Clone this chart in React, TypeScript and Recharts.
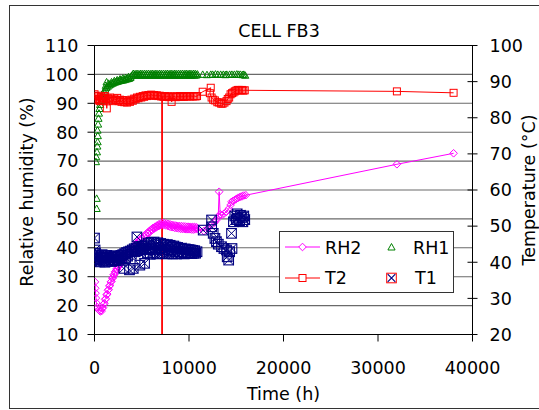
import React from "react";
import {
  ScatterChart,
  Scatter,
  XAxis,
  YAxis,
  CartesianGrid,
  ReferenceLine,
  Legend,
} from "recharts";

// ---------- tick labels ----------
const timeTicks = [0, 10000, 20000, 30000, 40000];
const rhTicks = [10, 20, 30, 40, 50, 60, 70, 80, 90, 100, 110];
const tempTicks = [20, 30, 40, 50, 60, 70, 80, 90, 100];

// ---------- series: [time (h), value] ----------
const rh2Points: number[][] = [
  [50, 28.2], [80, 26], [110, 24.3], [150, 22.6], [200, 20.9], [300, 19.5], [450, 18.5],
  [600, 18], [675, 18.4], [750, 18.1], [825, 19.1], [900, 19.3], [975, 20.5], [1050, 20.8],
  [1125, 22.1], [1200, 22.4], [1275, 23.7], [1350, 24], [1425, 25.3], [1500, 25.6], [1575, 26.8],
  [1650, 27], [1725, 28.2], [1800, 28.4], [1875, 29.5], [1950, 29.6], [2025, 30.7], [2100, 30.7],
  [2175, 31.7], [2250, 31.7], [2325, 32.7], [2400, 32.6], [2475, 33.6], [2550, 33.5], [2625, 34.4],
  [2700, 34.3], [2800, 35.3], [2900, 35.2], [3000, 36.2], [3100, 36.1], [3200, 37], [3300, 36.9],
  [3400, 37.8], [3500, 37.7], [3600, 38.6], [3700, 38.5], [3800, 39.4], [3900, 39.2], [4000, 40.1],
  [4100, 39.9], [4200, 40.8], [4300, 40.6], [4400, 41.5], [4500, 41.3], [4600, 42.1], [4700, 41.9],
  [4800, 42.8], [4900, 42.6], [5000, 43.4], [5100, 43.2], [5200, 44], [5300, 43.8], [5400, 44.6],
  [5500, 44.4], [5600, 45.2], [5700, 45], [5800, 45.8], [5900, 45.6], [6000, 46.4], [6100, 46.1],
  [6200, 46.9], [6300, 46.6], [6400, 47.3], [6500, 47], [6600, 47.7], [6700, 47.4], [6800, 48.1],
  [6900, 47.7], [7000, 48.4], [7100, 47.9], [7200, 48.6], [7300, 47.9], [7400, 48.5], [7500, 47.8],
  [7600, 48.4], [7700, 47.6], [7800, 48.3], [7900, 47.4], [8000, 48.1], [8100, 47.2], [8200, 47.9],
  [8300, 47.1], [8400, 47.8], [8500, 46.9], [8600, 47.7], [8700, 46.8], [8800, 47.6], [8900, 46.7],
  [9000, 47.5], [9100, 46.6], [9200, 47.5], [9300, 46.5], [9400, 47.4], [9500, 46.5], [9600, 47.4],
  [9700, 46.4], [9800, 47.3], [9900, 46.4], [10000, 47.3], [10100, 46.4], [10200, 47.2],
  [10300, 46.3], [10400, 47.2], [10500, 46.3], [10600, 47.2], [10700, 46.4], [10800, 47.1],
  [10900, 46.6],
  [11570, 45.8], [12000, 46.8], [12390, 47.9], [12700, 48.8], [12910, 49.6], [13090, 50.7],
  [13190, 59.4], [13300, 51.6], [13440, 51.3], [13700, 51.8], [13970, 52.5], [14200, 53.5],
  [14400, 54.8], [14500, 55.9], [14650, 56.2], [14850, 56.6], [15000, 56.9], [15170, 57.2],
  [15330, 57.5], [15490, 57.7], [15650, 57.9], [15800, 58.1], [16010, 58.2], [32000, 68.9],
  [38000, 72.7],
];

const rh1Points: number[][] = [
  [230, 53.6], [230, 57.1], [150, 69.8], [180, 71.5], [260, 73.2], [300, 75.2], [330, 76.7],
  [350, 78.8], [320, 80.7], [380, 82.8], [420, 84.8], [470, 86.6], [520, 88.2], [600, 89.6],
  [680, 91], [780, 92.4], [880, 93.4], [1000, 94.2], [1130, 94.9], [1280, 97.4], [1260, 95.5],
  [1200, 96.2], [1400, 95.9], [1500, 96.9], [1550, 96.3], [1700, 96.6], [1800, 97.4], [1850, 96.9],
  [2000, 97.1], [2100, 97.8], [2150, 97.3], [2300, 97.5], [2400, 98.1], [2450, 97.6], [2600, 97.8],
  [2700, 98.4], [2750, 97.9], [2900, 98], [3000, 98.7], [3050, 98.1], [3200, 98.2], [3300, 98.9],
  [3350, 98.4], [3500, 98.5], [3600, 99.2], [3650, 98.6], [3800, 98.9], [3900, 99.5],
  [4000, 99.8], [4100, 100.3], [4200, 99.7], [4300, 100.2], [4400, 99.8], [4500, 100.3],
  [4600, 99.7], [4700, 100.2], [4800, 99.8], [4900, 100.3], [5000, 99.7], [5100, 100.2],
  [5200, 99.8], [5300, 100.3], [5400, 99.7], [5500, 100.2], [5600, 99.8], [5700, 100.3],
  [5800, 99.7], [5900, 100.2], [6000, 99.8], [6100, 100.3], [6200, 99.7], [6300, 100.2],
  [6400, 99.8], [6500, 100.3], [6600, 99.7], [6700, 100.2], [6800, 99.8], [6900, 100.3],
  [7000, 99.7], [7100, 100.2], [7200, 99.8], [7300, 100.3], [7400, 99.7], [7500, 100.2],
  [7600, 99.8], [7700, 100.3], [7800, 99.7], [7900, 100.2], [8000, 99.8], [8100, 100.3],
  [8200, 99.7], [8300, 100.2], [8400, 99.8], [8500, 100.3], [8600, 99.7], [8700, 100.2],
  [8800, 99.8], [8900, 100.3], [9000, 99.7], [9100, 100.2], [9200, 99.8], [9300, 100.3],
  [9400, 99.7], [9500, 100.2], [9600, 99.8], [9700, 100.3], [9800, 99.7], [9900, 100.2],
  [10000, 99.8], [10100, 100.3], [10200, 99.7], [10300, 100.2], [10400, 99.8], [10500, 100.3],
  [10600, 99.7], [10700, 100.2], [10800, 99.8], [10900, 100.1],
  [11450, 100], [11900, 99.9], [12300, 100], [12500, 100], [12800, 100.1], [13050, 100],
  [13350, 100], [13630, 100], [13850, 99.9], [14000, 100], [14300, 100], [14540, 100],
  [14800, 100], [15060, 100.1], [15250, 100], [15440, 100], [15650, 99.9], [15800, 100],
  [15950, 99.7],
];

const t2Points: number[][] = [
  [0, 86.5], [60, 85.2], [120, 86], [200, 84.8], [300, 85.6], [400, 86.1], [500, 85], [600, 84.6],
  [700, 85.8], [800, 85.3], [900, 84.7], [1000, 85.5], [1100, 86], [1200, 85.2], [1300, 82.6],
  [1400, 85.4], [1500, 84.8], [1650, 85.6], [1800, 85.1], [1950, 84.6], [2100, 85.3], [2250, 84.9],
  [2400, 85.5], [2550, 84.6], [2700, 85], [2850, 84.4], [3000, 84.9], [3150, 84.3], [3300, 84.8],
  [3450, 84.2], [3600, 84.7], [3750, 84.4], [3900, 85], [4050, 84.7], [4200, 85.3], [4350, 85.1],
  [4500, 85.6], [4650, 85.4], [4800, 85.8], [4950, 85.6], [5100, 86], [5250, 85.8], [5400, 86.2],
  [5550, 86], [5700, 86.3], [5850, 86.1], [6000, 86.4], [6150, 86.2], [6300, 86.3], [6450, 86.1],
  [6600, 86.2], [6750, 86], [6900, 86.1], [7050, 85.9], [7150, 86], [7300, 85.8], [7450, 86],
  [7600, 85.8], [7750, 85.9], [7900, 85.7], [8050, 85.9], [8160, 84.4], [8300, 85.8], [8450, 85.9],
  [8600, 85.7], [8750, 85.9], [8900, 85.8], [9050, 86], [9200, 85.8], [9350, 85.9], [9500, 85.8],
  [9650, 86], [9800, 85.9], [9950, 86], [10100, 85.9], [10250, 86], [10400, 85.9], [10550, 86],
  [10700, 85.9], [10850, 86],
  [11450, 87.2], [12300, 88.3], [12210, 86.8], [12390, 85.6], [12560, 85], [12740, 84.8],
  [13000, 84.3], [13190, 84.2], [13400, 83.9], [13550, 83.9], [13750, 84.2], [13970, 84.6],
  [14100, 85.2], [14250, 85.6], [14400, 86.5], [14550, 86.8], [14700, 87], [14850, 87.3],
  [15000, 87.5], [15150, 87.7], [15300, 87.7], [15450, 87.6], [15600, 87.7], [15750, 87.5],
  [15900, 87.6], [32000, 87.3], [38000, 86.9],
];

const t1Points: number[][] = [
  [0, 46.7], [60, 43.4], [100, 42.5], [150, 41], [200, 42], [250, 40.3], [300, 41.5], [400, 40.7],
  [500, 41.8], [600, 40.1], [700, 41.3], [800, 42.1], [900, 40.5], [1000, 41.5], [1100, 40],
  [1200, 41.1], [1300, 41.9], [1400, 40.3], [1500, 41.4], [1600, 40.8], [1700, 41.7], [1800, 40.2],
  [1900, 41.3], [2000, 40.7], [2100, 41.8], [2200, 40.4], [2300, 41.2], [2400, 40.8], [2500, 41.6],
  [2600, 40.5], [2700, 41.3], [2800, 41.9], [2900, 40.9], [3000, 42.1], [3100, 38.3], [3200, 42.4],
  [3300, 41.3], [3400, 42.7], [3500, 41.7], [3600, 42.9], [3700, 37.9], [3800, 43.1], [3900, 42.2],
  [4000, 43.4], [4100, 38.3], [4200, 43.7], [4300, 42.9], [4400, 43.9], [4490, 47], [4600, 43.2],
  [4700, 44.2], [4800, 39.2], [4900, 43.5], [5000, 44.4], [5100, 43.7], [5200, 44.5], [5300, 39.7],
  [5400, 43.8], [5500, 44.8], [5600, 42.6], [5700, 45.3], [5800, 43.5], [5900, 42.2], [6000, 45.5],
  [6100, 44], [6200, 42.5], [6300, 45.6], [6400, 43.4], [6500, 44.8], [6600, 42.3], [6700, 45.4],
  [6800, 43.8], [6900, 42.5], [7000, 45.2], [7100, 44.1], [7200, 42.4], [7300, 45], [7400, 43.3],
  [7500, 44.6], [7600, 42.3], [7700, 44.9], [7800, 43.5], [7900, 42.4], [8000, 44.7], [8100, 43.1],
  [8200, 44.3], [8300, 42.3], [8400, 44.5], [8500, 43], [8600, 44.2], [8700, 42.3], [8800, 44.1],
  [8900, 42.9], [9000, 43.8], [9100, 42.4], [9200, 43.9], [9300, 42.8], [9400, 43.6], [9500, 42.3],
  [9600, 43.7], [9700, 42.6], [9800, 43.5], [9900, 42.4], [10000, 43.5], [10100, 42.6],
  [10200, 43.4], [10300, 42.4], [10400, 43.3], [10500, 42.5], [10600, 43.2], [10700, 42.5],
  [10850, 42.9],
  [11500, 48.9], [12390, 51.7], [12400, 49.8], [12560, 48], [12740, 46.6], [12900, 45.7],
  [13100, 45], [13440, 44.3], [13700, 43.8], [13970, 43.4], [14040, 41.5], [14200, 40.6],
  [14300, 42.9], [14500, 48], [14550, 43.8], [14700, 51.2], [14850, 52.8], [15000, 51.8],
  [15100, 53.4], [15200, 52.2], [15350, 51.5], [15450, 53], [15600, 52.4], [15700, 51.2],
  [15800, 52.8], [15900, 51.8],
];

// the T2 trace drops to the axis at this time
const t2DropTime = 7150;
const t2DropTop = 85.9;

const toXY = (arr: number[][]) => arr.map(([x, y]) => ({ x, y }));

const FONT = "'DejaVu Sans', Verdana, sans-serif";
const FS = 17.5;
const MAGENTA = "#FF00FF";
const GREEN = "#008000";
const RED = "#FF0000";
const NAVY = "#000080";

const Diamond = (p: any) => {
  const { cx, cy } = p;
  if (cx == null || cy == null) return null;
  const r = 3.8;
  return (
    <path
      d={`M${cx} ${cy - r}L${cx + r} ${cy}L${cx} ${cy + r}L${cx - r} ${cy}Z`}
      fill="none"
      stroke={MAGENTA}
      strokeWidth={1}
    />
  );
};

const Triangle = (p: any) => {
  const { cx, cy } = p;
  if (cx == null || cy == null) return null;
  return (
    <path
      d={`M${cx} ${cy - 3.5}L${cx + 3.6} ${cy + 3}L${cx - 3.6} ${cy + 3}Z`}
      fill="none"
      stroke={GREEN}
      strokeWidth={1}
    />
  );
};

const Square = (p: any) => {
  const { cx, cy } = p;
  if (cx == null || cy == null) return null;
  return <rect x={cx - 3.5} y={cy - 3.5} width={7} height={7} fill="none" stroke={RED} strokeWidth={1} />;
};

const XSquare = (p: any) => {
  const { cx, cy } = p;
  if (cx == null || cy == null) return null;
  const r = 4.8;
  return (
    <g>
      <rect x={cx - r} y={cy - r} width={2 * r} height={2 * r} fill="none" stroke={NAVY} strokeWidth={1.1} />
      <path d={`M${cx - r} ${cy - r}L${cx + r} ${cy + r}M${cx + r} ${cy - r}L${cx - r} ${cy + r}`} stroke={NAVY} strokeWidth={1} />
    </g>
  );
};

const LeftTick = (p: any) => (
  <text x={p.x} y={p.y} dy={6.3} textAnchor="end" fontFamily={FONT} fontSize={FS} fill="#000">
    {p.payload.value}
  </text>
);

const RightTick = (p: any) => (
  <g>
    <line x1={p.x - 22} x2={p.x - 12} y1={p.y} y2={p.y} stroke="#000" strokeWidth={1} />
    <text x={p.x} y={p.y} dy={6.3} textAnchor="start" fontFamily={FONT} fontSize={FS} fill="#000">
      {p.payload.value}
    </text>
  </g>
);

const BottomTick = (p: any) => (
  <text x={p.x} y={p.y} dy={30.5} textAnchor="middle" fontFamily={FONT} fontSize={FS} fill="#000">
    {p.payload.value}
  </text>
);

const LegendBox = () => (
  <svg width={176} height={63} style={{ display: "block" }}>
    <rect x={0.5} y={0.5} width={174} height={61} fill="#fff" stroke="#333" strokeWidth={1} />
    <line x1={6} x2={41} y1={16} y2={16} stroke={MAGENTA} strokeWidth={1} />
    <path d="M23.5 12.2L27.3 16L23.5 19.8L19.7 16Z" fill="#fff" stroke={MAGENTA} />
    <text x={46} y={22.6} fontFamily={FONT} fontSize={FS} fill="#000">RH2</text>
    <path d="M112.5 12.5L116.1 19L108.9 19Z" fill="none" stroke={GREEN} />
    <text x={134} y={22.6} fontFamily={FONT} fontSize={FS} fill="#000">RH1</text>
    <line x1={6} x2={41} y1={47} y2={47} stroke={RED} strokeWidth={1} />
    <rect x={20} y={43.5} width={7} height={7} fill="#fff" stroke={RED} />
    <text x={46} y={53.3} fontFamily={FONT} fontSize={FS} fill="#000">T2</text>
    <rect x={107.7} y={42.2} width={9.6} height={9.6} fill="#fff" stroke={RED} />
    <path d="M108.7 43.2L116.3 50.8M116.3 43.2L108.7 50.8" stroke={NAVY} strokeWidth={1.2} />
    <text x={136} y={53.3} fontFamily={FONT} fontSize={FS} fill="#000">T1</text>
  </svg>
);

export default function App() {
  return (
    <div
      style={{
        position: "absolute",
        left: 0,
        top: 0,
        width: 539,
        height: 410,
        overflow: "hidden",
        background: "#fff",
      }}
    >
      <div
        style={{
          position: "absolute",
          left: 9,
          top: 5,
          width: 620,
          height: 404,
          boxSizing: "border-box",
          border: "1px solid #333",
        }}
      />
      <div style={{ position: "absolute", left: 0, top: 0 }}>
        <ScatterChart
          width={539}
          height={410}
          margin={{ top: 45.5, right: 6.5, bottom: 35.5, left: 34.5 }}
        >
          <CartesianGrid yAxisId="rh" vertical={false} stroke="#6a6a6a" strokeWidth={1.1} />
          <XAxis
            type="number"
            dataKey="x"
            domain={[0, 40000]}
            ticks={timeTicks}
            interval={0}
            height={40}
            tickSize={7}
            tickMargin={2}
            axisLine={{ stroke: "#000" }}
            tickLine={{ stroke: "#000" }}
            tick={<BottomTick />}
            allowDataOverflow
          />
          <YAxis
            yAxisId="rh"
            type="number"
            dataKey="y"
            domain={[10, 110]}
            ticks={rhTicks}
            interval={0}
            width={60}
            tickSize={7}
            tickMargin={9}
            axisLine={{ stroke: "#000" }}
            tickLine={{ stroke: "#000" }}
            tick={<LeftTick />}
            allowDataOverflow
          />
          <YAxis
            yAxisId="t"
            orientation="right"
            type="number"
            dataKey="y"
            domain={[20, 100]}
            ticks={tempTicks}
            interval={0}
            width={60}
            tickSize={5}
            tickMargin={12}
            axisLine={{ stroke: "#000" }}
            tickLine={false}
            tick={<RightTick />}
            allowDataOverflow
          />
          <ReferenceLine yAxisId="rh" y={110} stroke="#000" strokeWidth={1} />
          <Scatter
            name="RH2"
            yAxisId="rh"
            data={toXY(rh2Points)}
            line={{ stroke: MAGENTA, strokeWidth: 1 }}
            lineType="joint"
            shape={<Diamond />}
            isAnimationActive={false}
          />
          <Scatter
            name="RH1"
            yAxisId="rh"
            data={toXY(rh1Points)}
            shape={<Triangle />}
            isAnimationActive={false}
          />
          <Scatter
            name="T1"
            yAxisId="t"
            data={toXY(t1Points)}
            shape={<XSquare />}
            isAnimationActive={false}
          />
          <Scatter
            name="T2"
            yAxisId="t"
            data={toXY(t2Points)}
            line={{ stroke: RED, strokeWidth: 1 }}
            lineType="joint"
            shape={<Square />}
            isAnimationActive={false}
          />
          <ReferenceLine
            yAxisId="t"
            segment={[
              { x: t2DropTime, y: t2DropTop },
              { x: t2DropTime, y: 20 },
            ]}
            stroke={RED}
            strokeWidth={1.8}
          />
          <Legend
            layout="vertical"
            align="center"
            verticalAlign="middle"
            content={() => <LegendBox />}
            wrapperStyle={{ position: "absolute", left: 279, top: 230.5, width: 176, height: 63 }}
          />
        </ScatterChart>
      </div>
      <svg
        width={539}
        height={410}
        style={{ position: "absolute", left: 0, top: 0, pointerEvents: "none" }}
      >
        <text x={279} y={37} textAnchor="middle" fontFamily={FONT} fontSize={FS} fill="#000">
          CELL FB3
        </text>
        <text x={283.5} y={400} textAnchor="middle" fontFamily={FONT} fontSize={FS} fill="#000">
          Time (h)
        </text>
        <text
          x={33}
          y={192}
          textAnchor="middle"
          transform="rotate(-90 33 192)"
          fontFamily={FONT}
          fontSize={FS}
          fill="#000"
        >
          Relative humidity (%)
        </text>
        <text
          x={534.5}
          y={190}
          textAnchor="middle"
          transform="rotate(-90 534.5 190)"
          fontFamily={FONT}
          fontSize={FS}
          fill="#000"
        >
          Temperature (°C)
        </text>
      </svg>
    </div>
  );
}
